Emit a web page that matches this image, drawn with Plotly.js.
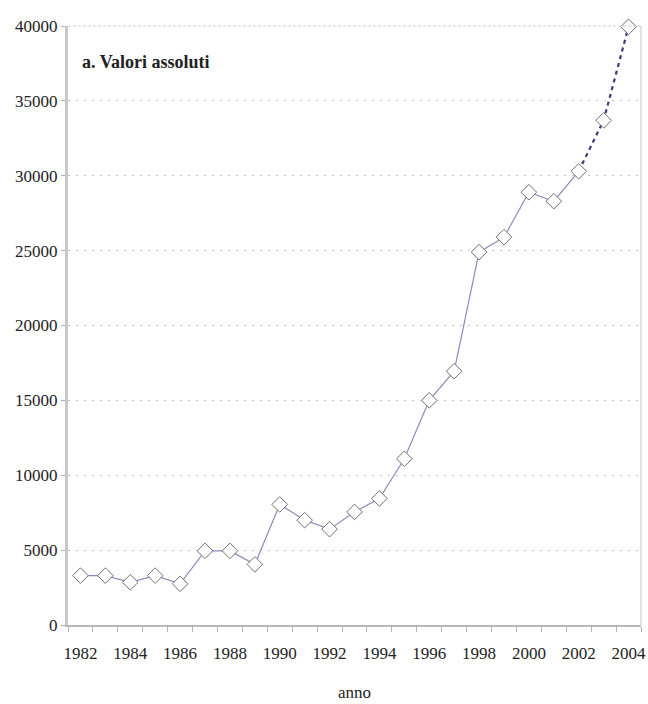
<!DOCTYPE html>
<html>
<head>
<meta charset="utf-8">
<script src="https://cdn.plot.ly/plotly-3.0.1.min.js"></script>
<style>html,body{margin:0;padding:0;background:#fff;}#chart{width:648px;height:704px;}</style>
</head>
<body>
<div id="chart"></div>
<script>
const years = [1982,1983,1984,1985,1986,1987,1988,1989,1990,1991,1992,1993,1994,1995,1996,1997,1998,1999,2000,2001,2002,2003,2004];
const values = [3300,3300,2850,3300,2750,4950,4950,4050,8050,7000,6400,7550,8450,11100,15000,16950,24900,25900,28900,28300,30300,33700,39950];
const tickYears = [1982,1984,1986,1988,1990,1992,1994,1996,1998,2000,2002,2004];
const yTicks = [0,5000,10000,15000,20000,25000,30000,35000,40000];
const chartTitle = "a. Valori assoluti";
const xTitle = "anno";

const splitIdx = years.indexOf(2002);
const serif = 'Liberation Serif';

const traces = [
  {x: years.slice(0, splitIdx+1), y: values.slice(0, splitIdx+1), mode: 'lines',
   line: {color: '#8c8cc0', width: 1.2}, showlegend: false, cliponaxis: false},
  {x: years.slice(splitIdx), y: values.slice(splitIdx), mode: 'lines',
   line: {color: '#3a3a80', width: 2.2, dash: '4px,4px'}, showlegend: false, cliponaxis: false},
  {x: years, y: values, mode: 'markers', cliponaxis: false,
   marker: {symbol: 'diamond', size: 12, color: '#ffffff', line: {color: '#6e6e6e', width: 1}},
   showlegend: false}
];

const layout = {
  width: 648, height: 704,
  margin: {l: 68, r: 7, t: 26, b: 79},
  paper_bgcolor: '#ffffff', plot_bgcolor: '#ffffff',
  font: {family: serif, size: 16, color: '#222222'},
  xaxis: {
    range: [1981.5, 2004.5], tickvals: tickYears, ticktext: tickYears.map(String),
    ticks: '', showgrid: false, zeroline: false, ticklabelstandoff: 12,
    showline: true, linecolor: '#b8b8b8', linewidth: 2,
    minor: {tick0: 1981.5, dtick: 1, ticks: 'outside', ticklen: 5, tickcolor: '#b0b0b0', showgrid: false},
    tickfont: {family: serif, size: 17, color: '#222'},
    title: {text: xTitle, font: {family: serif, size: 17, color: '#222'}, standoff: 24}
  },
  yaxis: {
    range: [0, 40000], tickvals: yTicks, ticktext: yTicks.map(String),
    ticks: 'outside', ticklen: 4, tickcolor: '#b0b0b0',
    showgrid: true, gridcolor: '#c4c4c4', griddash: '1.5px,6.5px', gridwidth: 1,
    zeroline: false, showline: true, linecolor: '#c8c8cc', linewidth: 3,
    tickfont: {family: serif, size: 17, color: '#222'}
  },
  shapes: [
    {type: 'line', xref: 'paper', yref: 'paper', x0: 1, x1: 1, y0: 0, y1: 1, line: {color: '#e2e2e2', width: 2}},
    {type: 'line', xref: 'paper', yref: 'paper', x0: 0, x1: 1, y0: 1, y1: 1, line: {color: '#cfcfcf', width: 1, dash: '3px,2px'}}
  ],
  annotations: [
    {text: '<b>' + chartTitle + '</b>', xref: 'paper', yref: 'paper', x: 0.021, y: 0.94,
     xanchor: 'left', yanchor: 'middle', showarrow: false,
     font: {family: serif, size: 18, color: '#222'}}
  ]
};

Plotly.newPlot('chart', traces, layout, {displayModeBar: false, staticPlot: true});
</script>
</body>
</html>
